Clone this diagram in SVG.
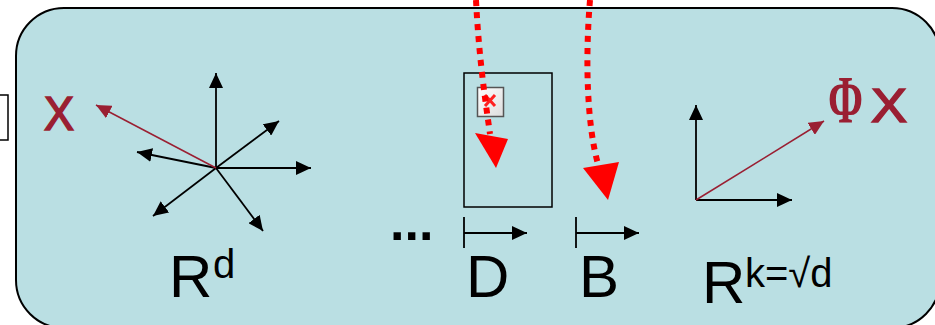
<svg xmlns="http://www.w3.org/2000/svg" width="935" height="325" viewBox="0 0 935 325">
<defs>
<marker id="ab" markerUnits="userSpaceOnUse" markerWidth="16" markerHeight="14" refX="15" refY="7" orient="auto"><path d="M0,0 L15,7 L0,14 z" fill="#000"/></marker>
<marker id="ar" markerUnits="userSpaceOnUse" markerWidth="16" markerHeight="14" refX="15" refY="7" orient="auto"><path d="M0,0 L15,7 L0,14 z" fill="#9A1F32"/></marker>
<linearGradient id="ig" x1="0" y1="0" x2="1" y2="1"><stop offset="0" stop-color="#fff"/><stop offset="1" stop-color="#ddd"/></linearGradient>
</defs>
<style>
.ax{stroke:#000;stroke-width:1.8;fill:none;marker-end:url(#ab)}
.rv{stroke:#9A1F32;stroke-width:1.5;fill:none;marker-end:url(#ar)}
.dot{stroke:#ff0000;stroke-width:6;stroke-dasharray:6 6;fill:none}
.big{font-family:"Liberation Sans",Arial,sans-serif;font-size:60px;fill:#000}
.sup{font-family:"Liberation Sans",Arial,sans-serif;font-size:40px;fill:#000}
.red{font-family:"Liberation Sans",Arial,sans-serif;font-size:48px;fill:#9A1F32;stroke:#9A1F32;stroke-width:1.6}
</style>
<g id="panel">
<rect x="16" y="8" width="924" height="320" rx="48" fill="#BADFE3" stroke="#000" stroke-width="2"/>
</g>
<rect id="left-box" x="-10" y="95" width="18" height="45" fill="#fff" stroke="#000" stroke-width="1.5"/>
<g id="space-rd">
<line class="ax" x1="216" y1="168" x2="216" y2="73"/>
<line class="ax" x1="216" y1="168" x2="279" y2="121"/>
<line class="ax" x1="216" y1="168" x2="311" y2="168"/>
<line class="ax" x1="216" y1="168" x2="263" y2="231"/>
<line class="ax" x1="216" y1="168" x2="153" y2="216"/>
<line class="ax" x1="216" y1="168" x2="137" y2="152"/>
<line class="rv" x1="216" y1="168" x2="96" y2="105"/>
<text class="red" x="44" y="130" textLength="30" lengthAdjust="spacingAndGlyphs">X</text>
<text class="big" x="169" y="297">R</text>
<text class="sup" x="213" y="278">d</text>
</g>
<g id="dots">
<text x="390" y="240" font-family="Liberation Sans, Arial, sans-serif" font-size="52" font-weight="bold" fill="#000">...</text>
</g>
<g id="block-d">
<rect x="464" y="73" width="88" height="134" fill="none" stroke="#000" stroke-width="1.5"/>
<rect x="477.5" y="87.5" width="26" height="29" fill="url(#ig)" stroke="#555" stroke-width="1.5"/>
<path d="M485,95 L495,106 M495,95 L485,106" stroke="#ff2020" stroke-width="3"/>
<line x1="464" y1="217" x2="464" y2="248" stroke="#000" stroke-width="1.8"/>
<line class="ax" x1="464" y1="233" x2="527" y2="233"/>
<text class="big" x="466" y="297">D</text>
</g>
<g id="block-b">
<line x1="576" y1="217" x2="576" y2="248" stroke="#000" stroke-width="1.8"/>
<line class="ax" x1="576" y1="233" x2="639" y2="233"/>
<text class="big" x="579" y="297">B</text>
</g>
<g id="space-rk">
<line class="ax" x1="696" y1="200" x2="696" y2="105"/>
<line class="ax" x1="696" y1="200" x2="792" y2="200"/>
<line class="rv" x1="696" y1="200" x2="824" y2="121"/>
<text transform="translate(828,122) scale(1,1.45)" font-family="Liberation Serif, 'Times New Roman', serif" font-size="46" font-weight="bold" fill="#9A1F32" textLength="35" lengthAdjust="spacingAndGlyphs">Φ</text>
<text class="red" x="871" y="122" textLength="36" lengthAdjust="spacingAndGlyphs">X</text>
<text class="big" x="702" y="303">R</text>
<text class="sup" x="745" y="287">k=√d</text>
</g>
<g id="connectors">
<path class="dot" d="M476,0 C479,60 486,105 490,134"/>
<polygon points="475,133 508,139 496,168" fill="#ff0000"/>
<path class="dot" d="M590,0 C585,60 587,125 598,164"/>
<polygon points="583,168 619,162 608,200" fill="#ff0000"/>
</g>
</svg>
